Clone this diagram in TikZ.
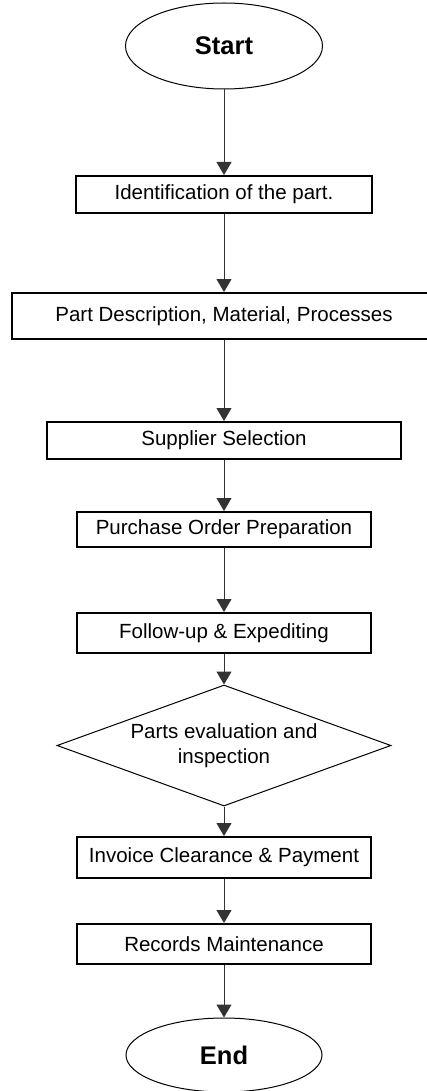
\documentclass[tikz,border=0pt]{standalone}
\usepackage{fontspec}
\setmainfont{Liberation Sans}
\usepackage{tikz}
\usetikzlibrary{shapes.geometric,arrows.meta}

\begin{document}
\begin{tikzpicture}
            [every node/.style={inner sep=0pt, font=\fontsize{10.25pt}{12.5pt}\selectfont},
             stepbox/.style={rectangle, line width=1pt, draw=black, fill=white},
             terminal/.style={ellipse, line width=0.5pt, draw=black, font=\fontsize{12.75pt}{15pt}\selectfont\bfseries},
             flow/.style={line width=0.5pt, -{Triangle[width=7.5pt, length=6.5pt]}, color=black!80}]
                \useasboundingbox (0pt, 0pt) rectangle (213.5pt, -545.5pt);
                \node (start) [terminal, minimum width=98.5pt, minimum height=43pt] at (112pt, -23pt) {Start};
                \node (ident) [stepbox, minimum width=148pt, minimum height=18.5pt] at (112pt, -97.25pt) {Identification of the part.};
                \node (desc) [stepbox, minimum width=212pt, minimum height=23pt] at (112pt, -158pt) {Part Description, Material, Processes};
                \node (supp) [stepbox, minimum width=177pt, minimum height=18.5pt] at (112pt, -220.25pt) {Supplier Selection};
                \node (po) [stepbox, minimum width=147pt, minimum height=17.5pt] at (112pt, -264.75pt) {Purchase Order Preparation};
                \node (follow) [stepbox, minimum width=147pt, minimum height=20pt] at (112pt, -316.5pt) {Follow-up \& Expediting};
                \node (eval) [diamond, aspect=2.76, line width=0.5pt, draw=black, minimum width=167pt, minimum height=60.5pt, align=center] at (112pt, -372.75pt) {Parts evaluation and\\inspection};
                \node (inv) [stepbox, minimum width=147pt, minimum height=20.5pt] at (112pt, -428.75pt) {Invoice Clearance \& Payment};
                \node (rec) [stepbox, minimum width=147pt, minimum height=20pt] at (112pt, -472pt) {Records Maintenance};
                \node (end) [terminal, minimum width=98pt, minimum height=37pt] at (112pt, -527.5pt) {End};
                \draw [flow] (start) to (ident);
                \draw [flow] (ident) to (desc);
                \draw [flow] (desc) to (supp);
                \draw [flow] (supp) to (po);
                \draw [flow] (po) to (follow);
                \draw [flow] (follow) to (eval);
                \draw [flow] (eval) to (inv);
                \draw [flow] (inv) to (rec);
                \draw [flow] (rec) to (end);
            \end{tikzpicture}
\end{document}
